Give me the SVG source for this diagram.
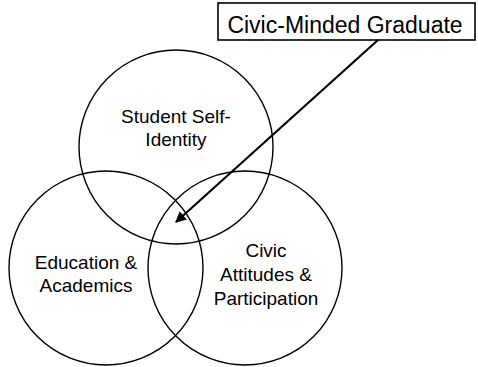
<svg xmlns="http://www.w3.org/2000/svg" width="478" height="367" viewBox="0 0 478 367">
<style>
.c{fill:none;stroke:#000;stroke-width:1.4}
.t{font-family:"Liberation Sans",Arial,sans-serif;font-size:19px;fill:#000;text-anchor:middle}
</style>
<defs>
<marker id="ah" viewBox="0 0 10 10" refX="9" refY="5" markerWidth="5" markerHeight="5" orient="auto" markerUnits="strokeWidth">
<path d="M0,0 L10,5 L0,10 z" fill="#000"/>
</marker>
</defs>
<rect width="478" height="367" fill="#fff"/>
<g id="student">
<circle class="c" cx="176" cy="147" r="97"/>
<text class="t" x="176" y="123">Student Self-</text>
<text class="t" x="176" y="146">Identity</text>
</g>
<g id="education">
<circle class="c" cx="106" cy="268" r="97"/>
<text class="t" x="86" y="269">Education &amp;</text>
<text class="t" x="86" y="292">Academics</text>
</g>
<g id="civic">
<circle class="c" cx="245" cy="268" r="97"/>
<text class="t" x="266" y="257">Civic</text>
<text class="t" x="266" y="281">Attitudes &amp;</text>
<text class="t" x="266" y="305">Participation</text>
</g>
<g id="graduate">
<rect x="218" y="3" width="257" height="37" fill="#fff" stroke="#000" stroke-width="1.6"/>
<text class="t" x="345" y="33" style="font-size:23px">Civic-Minded Graduate</text>
</g>
<g id="connectors">
<line x1="378" y1="40" x2="176" y2="222" stroke="#000" stroke-width="2.2" marker-end="url(#ah)"/>
</g>
</svg>
